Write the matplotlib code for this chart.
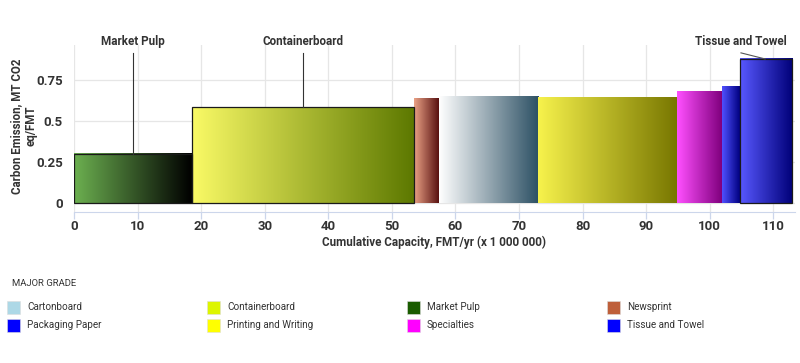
import matplotlib
matplotlib.use("Agg")
import matplotlib.pyplot as plt
import numpy as np
from matplotlib.colors import LinearSegmentedColormap
from matplotlib.patches import Rectangle

plt.rcParams['font.family'] = ['Roboto', 'DejaVu Sans']

grades = ["Market Pulp", "Containerboard", "Newsprint", "Cartonboard",
          "Printing and Writing", "Specialties", "Packaging Paper", "Tissue and Towel"]
capacity = [18.5, 35.0, 3.9, 15.6, 21.9, 7.0, 2.8, 8.2]
emission = [0.30, 0.585, 0.634, 0.648, 0.646, 0.68, 0.713, 0.878]
grad_left = ["#6cb050", "#fafa66", "#eaa286", "#ffffff", "#f7f24c", "#ff50ff", "#5050ff", "#5858ff"]
grad_right = ["#000000", "#5c7800", "#581010", "#2c5064", "#777600", "#80007e", "#000080", "#000078"]
outlined = ["Market Pulp", "Containerboard", "Tissue and Towel"]

legend_names = ["Cartonboard", "Containerboard", "Market Pulp", "Newsprint",
                "Packaging Paper", "Printing and Writing", "Specialties", "Tissue and Towel"]
legend_colors = ["#add8e6", "#ddf500", "#1a5c00", "#be5f3a",
                 "#0000ff", "#ffff00", "#ff00ff", "#0000ff"]

xticks = [0, 10, 20, 30, 40, 50, 60, 70, 80, 90, 100, 110]
yticks = [0, 0.25, 0.5, 0.75]
yticklabels = ["0", "0.25", "0.5", "0.75"]

fig = plt.figure(figsize=(8, 3.63), dpi=100)
ax = fig.add_axes([74/800, 1-212/363, (795-74)/800, (212-45)/363])
ax.set_xlim(0, 113.4)
ax.set_ylim(-0.055, 0.963)

starts = np.concatenate([[0], np.cumsum(capacity)[:-1]])
grad = np.linspace(0, 1, 256).reshape(1, -1)
for name, x0, w, h, cl, cr in zip(grades, starts, capacity, emission, grad_left, grad_right):
    cmap = LinearSegmentedColormap.from_list(name, [cl, cr])
    ax.imshow(grad, cmap=cmap, extent=[x0, x0 + w, 0, h], aspect='auto', zorder=2,
              interpolation='bilinear')
    if name in outlined:
        ax.add_patch(Rectangle((x0, 0), w, h, fill=False, edgecolor="#1a1a1a", lw=0.9, zorder=3))

ax.set_xticks(xticks)
ax.set_yticks(yticks)
ax.set_yticklabels(yticklabels)
ax.grid(True, color="#e6e6e6", lw=0.9, zorder=0)
ax.set_axisbelow(True)
for s in ["top", "right", "left"]:
    ax.spines[s].set_visible(False)
ax.spines["bottom"].set_color("#ccd6eb")
ax.tick_params(axis='x', colors="#ccd6eb", length=5, width=0.9, labelcolor="#333333", labelsize=9.5, pad=1)
ax.tick_params(axis='y', length=0, labelcolor="#333333", labelsize=9.5, pad=8)
for lab in ax.get_xticklabels() + ax.get_yticklabels():
    lab.set_fontweight('bold')

ax.set_xlabel("Cumulative Capacity, FMT/yr (x 1 000 000)", fontsize=8.4, fontweight='bold', color="#333333", labelpad=2)
fig.text(24/800, 1-126/363, "Carbon Emission, MT CO2\neq/FMT", rotation=90, ha='center', va='center',
         fontsize=8.3, fontweight='bold', color="#333333", linespacing=1.2, multialignment='center')

# annotations
for i, name in enumerate(grades):
    if name not in outlined:
        continue
    cx = starts[i] + capacity[i] / 2
    if name == "Tissue and Towel":
        tx = 104.9
        ax.plot([tx, 108.7], [0.915, emission[i]], color="#555555", lw=0.8, zorder=4, clip_on=False)
    else:
        tx = cx
        ax.plot([cx, cx], [emission[i], 0.915], color="#333333", lw=0.8, zorder=4, clip_on=False)
    ax.text(tx, 0.982, name, ha='center', va='center', fontsize=8.4, fontweight='bold', color="#333333")

# legend
fig.text(12/800, 1-284/363, "MAJOR GRADE", fontsize=6.8, color="#333333", va='center')
for k, (nm, col) in enumerate(zip(legend_names, legend_colors)):
    r, c = divmod(k, 4)
    x = 7 + 200 * c
    y = 307 + 18 * r
    fig.patches.append(Rectangle((x/800, 1-(y+6.5)/363), 13/800, 13/363, transform=fig.transFigure,
                                 facecolor=col, edgecolor="#dddddd", lw=0.4))
    fig.text((x + 20)/800, 1-y/363, nm, fontsize=7.1, color="#333333", va='center')

fig.savefig("out.png", dpi=100)
